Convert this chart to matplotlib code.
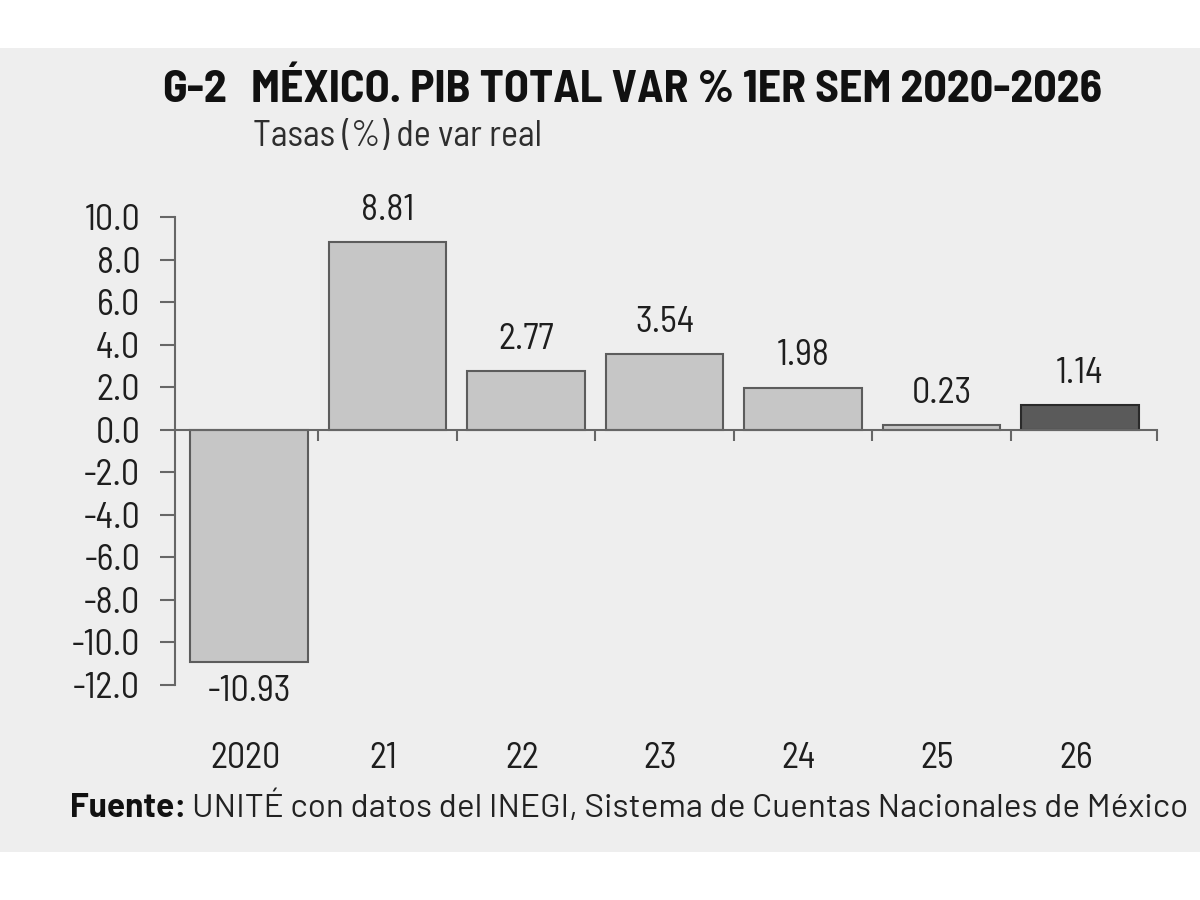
import matplotlib.pyplot as plt
from matplotlib.patches import Rectangle
import numpy as np

# data
years = ['2020', '21', '22', '23', '24', '25', '26']
pib_var = [-10.93, 8.81, 2.77, 3.54, 1.98, 0.23, 1.14]
value_labels = ['-10.93', '8.81', '2.77', '3.54', '1.98', '0.23', '1.14']
y_ticks = [10.0, 8.0, 6.0, 4.0, 2.0, 0.0, -2.0, -4.0, -6.0, -8.0, -10.0, -12.0]

# style
fonts = ['Barlow Semi Condensed', 'Barlow Condensed', 'DejaVu Sans']
fonts_wide = ['Barlow', 'Barlow Semi Condensed', 'DejaVu Sans']
bg = '#eeeeee'
bar_fill = '#c6c6c6'
bar_edge = '#5c5c5c'
last_fill = '#5a5a5a'
last_edge = '#2a2a2a'
axis_col = '#666666'
txt_col = '#1e1e1e'

plt.rcParams['font.family'] = fonts

fig = plt.figure(figsize=(12, 9), dpi=100, facecolor='white')
fig.patches.append(Rectangle((0, 0.053), 1, 0.894, transform=fig.transFigure,
                             facecolor=bg, edgecolor='none', zorder=-10))

ax = fig.add_axes([0.1458, 0.2389, 0.8183, 0.52])
ax.set_facecolor('none')

x = np.arange(len(years))
fills = [bar_fill] * (len(years) - 1) + [last_fill]
edges = [bar_edge] * (len(years) - 1) + [last_edge]
ax.bar(x, pib_var, width=0.85, color=fills, edgecolor=edges, linewidth=1.5, zorder=2)

xmin, xmax = -0.535, 6.555
ax.set_xlim(xmin, xmax)
ax.set_ylim(-12, 10)

# spines
for s in ['top', 'right']:
    ax.spines[s].set_visible(False)
ax.spines['left'].set_color(axis_col)
ax.spines['left'].set_linewidth(1.5)
ax.spines['bottom'].set_position(('data', 0))
ax.spines['bottom'].set_color(axis_col)
ax.spines['bottom'].set_linewidth(1.5)
ax.spines['bottom'].set_zorder(3)

# y ticks
ax.set_yticks(y_ticks)
ax.set_yticklabels([f'{v:.1f}' for v in y_ticks])
ax.tick_params(axis='y', direction='out', length=11, width=1.5, color=axis_col,
               pad=14, labelsize=26, labelcolor=txt_col)

# x ticks at category boundaries, no labels
bounds = list(np.arange(0.5, len(years) - 1)) + [xmax]
ax.set_xticks(bounds)
ax.set_xticklabels([])
ax.tick_params(axis='x', direction='out', length=8, width=1.5, color=axis_col)

# category labels under the plot
for xi, lab in zip(x, years):
    ax.annotate(lab, (xi, -12), xytext=(-3, -53), textcoords='offset points',
                ha='center', va='center', fontsize=26, color=txt_col)

# value labels
for xi, v, lab in zip(x, pib_var, value_labels):
    if v >= 0:
        ax.annotate(lab, (xi, v), xytext=(0, 11), textcoords='offset points',
                    ha='center', va='bottom', fontsize=26, color=txt_col)
    else:
        ax.annotate(lab, (xi, v), xytext=(0, -9), textcoords='offset points',
                    ha='center', va='top', fontsize=26, color=txt_col)

# titles
fig.text(162 / 1200, 1 - 91 / 900, 'G-2', fontsize=33, fontweight='bold',
         ha='left', va='center', color='#111111')
fig.text(251 / 1200, 1 - 91 / 900, 'MÉXICO. PIB TOTAL VAR % 1ER SEM 2020-2026',
         fontsize=33, fontweight='bold', ha='left', va='center', color='#111111')
fig.text(253 / 1200, 1 - 137 / 900, 'Tasas (%) de var real', fontsize=26,
         fontweight='normal', ha='left', va='center', color='#2e2e2e')

# source: bold lead, then the rest right after it
src_y = 1 - 808 / 900
lead = fig.text(70 / 1200, src_y, 'Fuente:', fontsize=24, fontweight='bold',
                family=fonts_wide, ha='left', va='center', color='#111111')
fig.canvas.draw()
bb = lead.get_window_extent()
fig.text((bb.x1 + 6) / 1200, src_y,
         'UNITÉ con datos del INEGI, Sistema de Cuentas Nacionales de México',
         fontsize=24, family=fonts_wide, ha='left', va='center', color='#222222')

plt.savefig('out.png', dpi=100, facecolor='white')
